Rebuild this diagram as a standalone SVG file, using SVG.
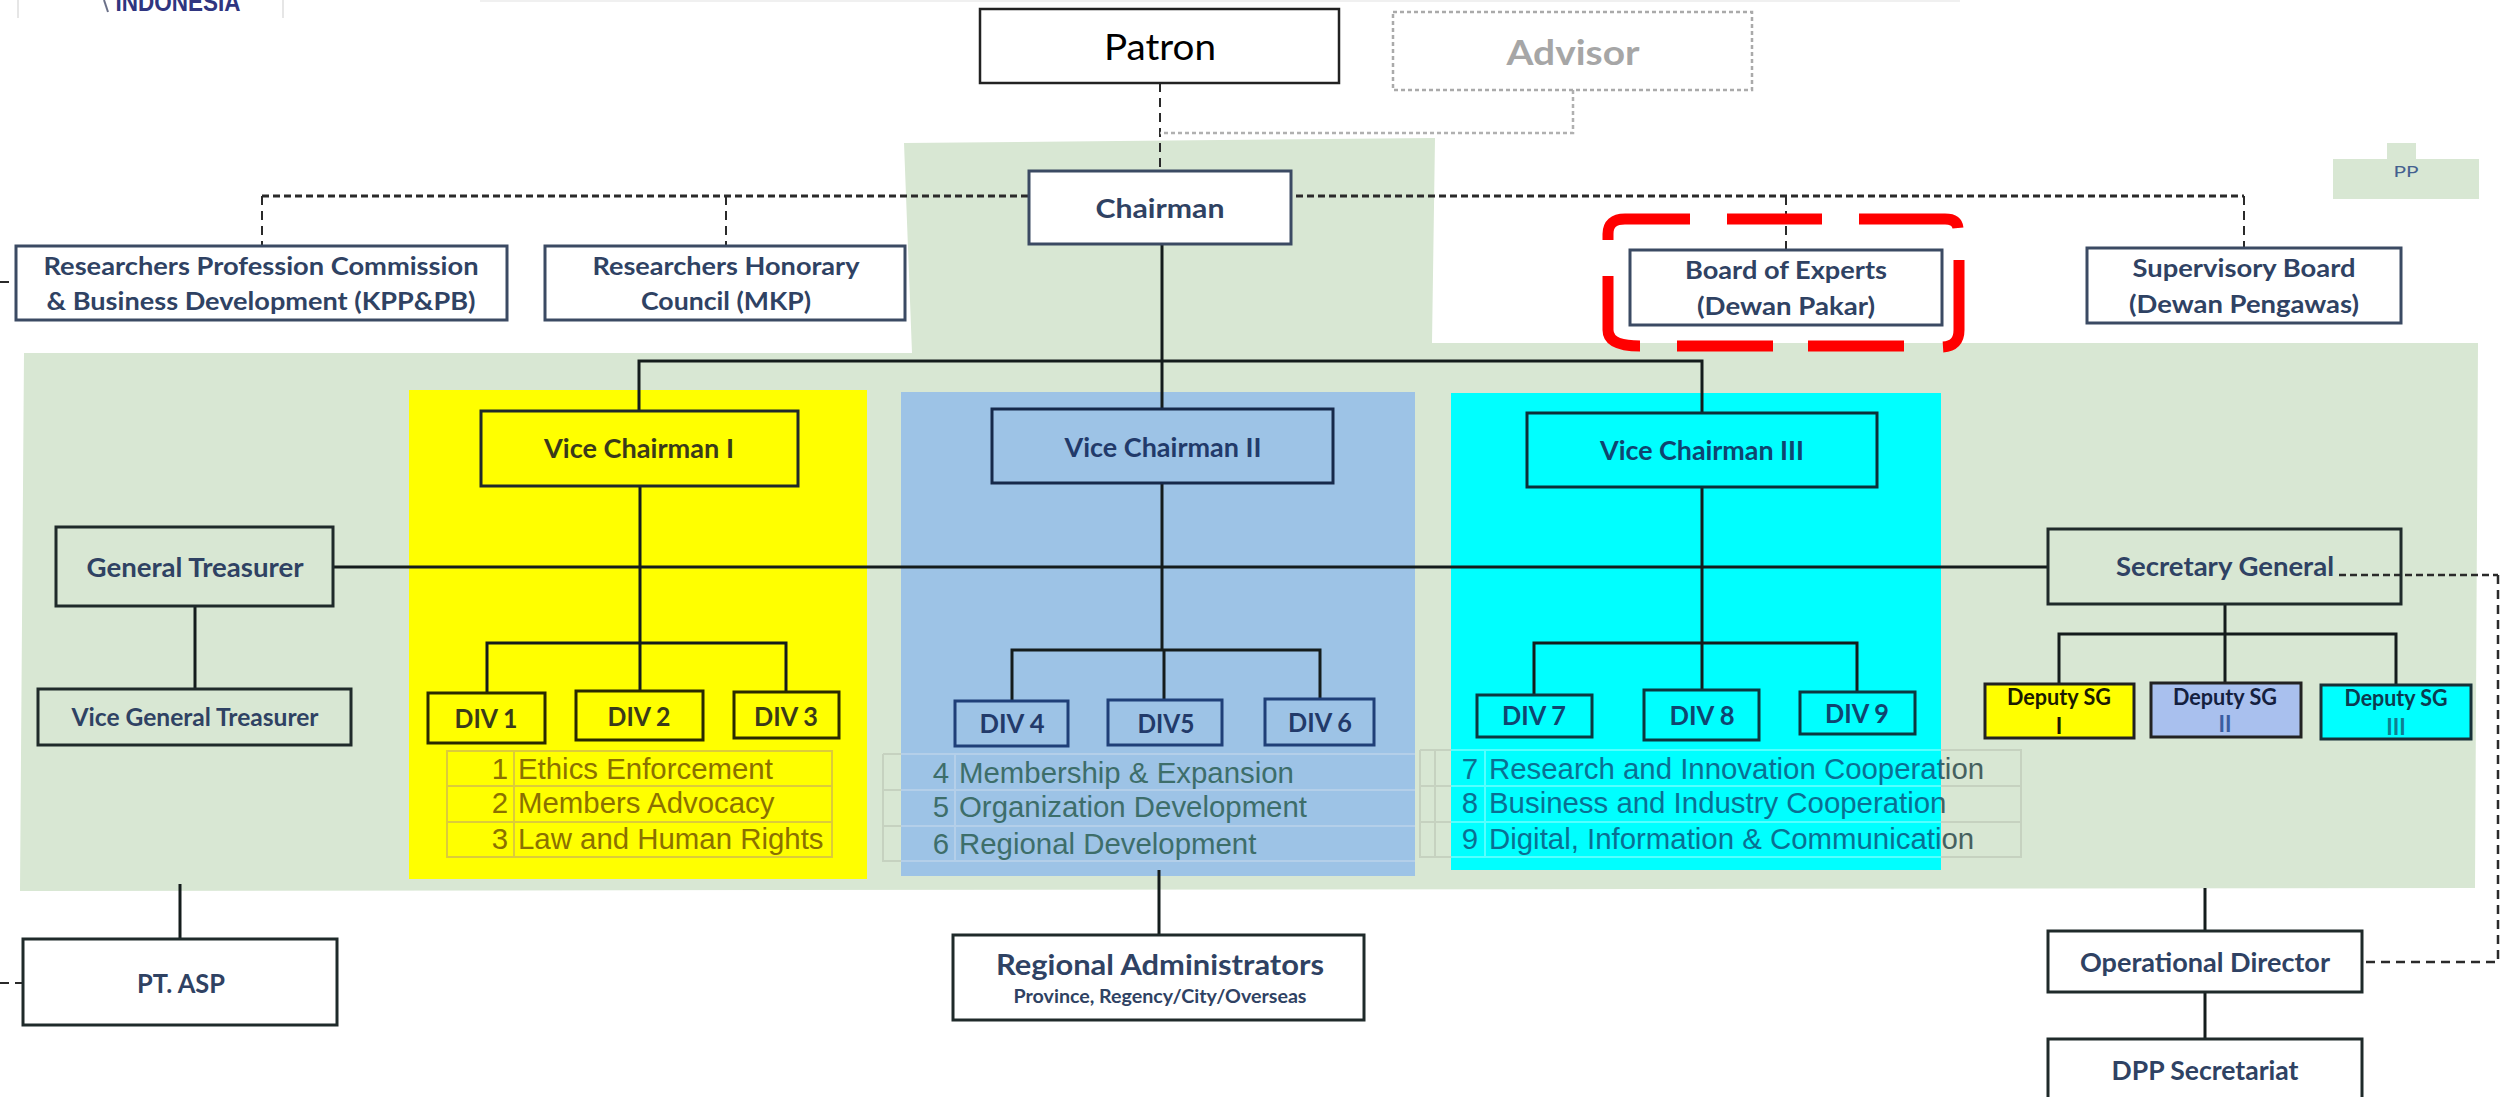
<svg xmlns="http://www.w3.org/2000/svg" width="2501" height="1097" viewBox="0 0 2501 1097">
<style>
.t{font-family:Lato,"Noto Sans",sans-serif;font-weight:700;font-size:25px;text-anchor:middle;fill:#2f4263}
.tb{font-family:"Liberation Sans",Arial,sans-serif;font-size:29.4px}
.box{fill:none;stroke:#1f2a2a;stroke-width:3}
.wbox{fill:#fff;stroke:#3b4a63;stroke-width:3}
.ln{fill:none;stroke:#141c1c;stroke-width:3}
.dv{fill:none;stroke:#2a2a2a;stroke-width:2;stroke-dasharray:9 6}
.dh{fill:none;stroke:#2a2a2a;stroke-width:3;stroke-dasharray:7 4}
.gridg{fill:none;stroke:#c6d2c0;stroke-width:2}
.grid{fill:none;stroke-width:2}
</style>
<defs>
<linearGradient id="t3text" gradientUnits="userSpaceOnUse" x1="1400" y1="0" x2="2100" y2="0">
<stop offset="0.7729" stop-color="#0a6f92"/><stop offset="0.7729" stop-color="#45605f"/>
</linearGradient>
</defs>
<rect width="2501" height="1097" fill="#fff"/>
<g id="backdrop">
<rect x="480" y="0" width="1480" height="2" fill="#f0f0f0"/>
<path d="M18 0V18M283 0V18" stroke="#e6e6e6" stroke-width="2" fill="none"/>
<path d="M104 0L108 12" stroke="#6a7088" stroke-width="2" fill="none"/>
<text x="178" y="11" font-family="'Liberation Sans',Arial,sans-serif" font-weight="700" font-size="26" text-anchor="middle" fill="#2f3580" textLength="125" lengthAdjust="spacingAndGlyphs">INDONESIA</text>
<polygon points="904,143 1435,138 1432,343 2478,343 2475,888 20,891 24,353 912,353" fill="#d8e7d3"/>
<path d="M2333 159H2387V143H2416V159H2479V199H2333Z" fill="#d8e7d3"/>
<path d="M883 754V861H901M883 790H901M883 826H901M883 754H901" class="gridg"/>
<path d="M1420 750V857H1451M1435 750V857M1420 750H1451M1420 786H1451M1420 822H1451M1941 750H2021V857H1941M1941 786H2021M1941 822H2021" class="gridg"/>
<rect x="409" y="390" width="458" height="489" fill="#ffff00"/>
<rect x="901" y="392" width="514" height="484" fill="#9dc3e6"/>
<rect x="1451" y="393" width="490" height="477" fill="#00ffff"/>
<path d="M447 751H832V857H447ZM447 786H832M447 822H832M514 751V857" class="grid" stroke="#dccb3a"/>
<path d="M901 754H1415M901 790H1415M901 826H1415M901 861H1415M955 754V861" class="grid" stroke="#b4cfe9"/>
<path d="M1451 750H1941M1451 786H1941M1451 822H1941M1451 857H1941M1485 750V857" class="grid" stroke="#55ffff"/>
</g>
<g id="connectors">
<path class="dv" d="M1160 83V170"/>
<path d="M1573 90V133H1160" fill="none" stroke="#b0b0b0" stroke-width="2.5" stroke-dasharray="4 3"/>
<path class="dh" d="M262 196H2244"/>
<path class="dv" d="M262 196V246M726 196V246M1786 196V250M2244 196V248"/>
<path class="dv" d="M0 282H16M0 983H23"/>
<path class="dh" d="M2339 575H2498" style="stroke-width:2.5"/>
<path class="dv" d="M2498 575V962H2362" style="stroke-width:2.5"/>
<path class="ln" d="M1162 244V409M639 411V361H1702V413"/>
<path class="ln" d="M333 567H2048"/>
<path class="ln" d="M640 486V691M487 693V643H786V692"/>
<path class="ln" d="M1162 483V650H1164V700M1012 701V650H1320V699"/>
<path class="ln" d="M1702 487V690M1534 695V643H1857V692"/>
<path class="ln" d="M195 606V689"/>
<path class="ln" d="M2225 604V684M2059 684V634H2396V685"/>
<path class="ln" d="M180 884V939M1159 870V934M2205 888V931M2205 992V1039"/>
</g>
<g id="patron"><rect class="box" x="980" y="9" width="359" height="74" style="fill:#fff;stroke:#222;stroke-width:2.5"/><text class="t" x="1160" y="60" style="font-size:36px;font-weight:400;fill:#000" textLength="112" lengthAdjust="spacingAndGlyphs">Patron</text></g>
<g id="advisor"><rect x="1393" y="12" width="359" height="78" fill="#fff" stroke="#aaa" stroke-width="2.5" stroke-dasharray="4 3"/><text class="t" x="1573" y="65" style="font-size:35px;fill:#a6a6a6" textLength="133" lengthAdjust="spacingAndGlyphs">Advisor</text></g>
<g id="chairman"><rect class="wbox" x="1029" y="171" width="262" height="73"/><text class="t" x="1160" y="218" style="font-size:27px" textLength="129" lengthAdjust="spacingAndGlyphs">Chairman</text></g>
<g id="kpp"><rect class="wbox" x="16" y="246" width="491" height="74"/><text class="t" x="261" y="275" textLength="435" lengthAdjust="spacingAndGlyphs">Researchers Profession Commission</text><text class="t" x="261" y="310" textLength="429" lengthAdjust="spacingAndGlyphs">&amp; Business Development (KPP&amp;PB)</text></g>
<g id="mkp"><rect class="wbox" x="545" y="246" width="360" height="74"/><text class="t" x="726" y="275" textLength="267" lengthAdjust="spacingAndGlyphs">Researchers Honorary</text><text class="t" x="726" y="310" textLength="170" lengthAdjust="spacingAndGlyphs">Council (MKP)</text></g>
<g id="board"><rect class="wbox" x="1630" y="250" width="312" height="75"/><text class="t" x="1786" y="279" textLength="202" lengthAdjust="spacingAndGlyphs">Board of Experts</text><text class="t" x="1786" y="315" textLength="178" lengthAdjust="spacingAndGlyphs">(Dewan Pakar)</text></g>
<g id="supervisory"><rect class="wbox" x="2087" y="248" width="314" height="75"/><text class="t" x="2244" y="277" textLength="223" lengthAdjust="spacingAndGlyphs">Supervisory Board</text><text class="t" x="2244" y="313" textLength="230" lengthAdjust="spacingAndGlyphs">(Dewan Pengawas)</text></g>
<g id="pp"><text class="t" x="2406" y="177" style="font-size:16px;font-weight:400;fill:#44608f" textLength="25" lengthAdjust="spacingAndGlyphs">PP</text></g>
<g id="treasurer"><rect class="box" x="56" y="527" width="277" height="79"/><text class="t" x="195" y="577" style="font-size:26px" textLength="217" lengthAdjust="spacingAndGlyphs">General Treasurer</text></g>
<g id="vice-treasurer"><rect class="box" x="38" y="689" width="313" height="56"/><text class="t" x="195" y="726" textLength="247" lengthAdjust="spacingAndGlyphs">Vice General Treasurer</text></g>
<g id="vc1"><rect class="box" x="481" y="411" width="317" height="75"/><text class="t" x="639" y="458" style="font-size:26px;fill:#3a3a1a" textLength="190" lengthAdjust="spacingAndGlyphs">Vice Chairman I</text></g>
<g id="vc2"><rect class="box" x="992" y="409" width="341" height="74" style="stroke:#16294a"/><text class="t" x="1163" y="457" style="font-size:26px;fill:#223a6a" textLength="197" lengthAdjust="spacingAndGlyphs">Vice Chairman II</text></g>
<g id="vc3"><rect class="box" x="1527" y="413" width="350" height="74" style="stroke:#0c3038"/><text class="t" x="1702" y="460" style="font-size:26px;fill:#0f4570" textLength="204" lengthAdjust="spacingAndGlyphs">Vice Chairman III</text></g>
<g id="div1"><rect class="box" x="428" y="693" width="117" height="50" style="stroke:#2a2a00"/><text class="t" x="486" y="728" style="font-size:27px;fill:#3a3a1a" textLength="63" lengthAdjust="spacingAndGlyphs">DIV 1</text></g>
<g id="div2"><rect class="box" x="576" y="691" width="127" height="49" style="stroke:#2a2a00"/><text class="t" x="639" y="726" style="font-size:27px;fill:#3a3a1a" textLength="63" lengthAdjust="spacingAndGlyphs">DIV 2</text></g>
<g id="div3"><rect class="box" x="734" y="692" width="105" height="46" style="stroke:#2a2a00"/><text class="t" x="786" y="726" style="font-size:27px;fill:#3a3a1a" textLength="64" lengthAdjust="spacingAndGlyphs">DIV 3</text></g>
<g id="div4"><rect class="box" x="955" y="701" width="113" height="45" style="stroke:#1f3f78"/><text class="t" x="1012" y="733" style="font-size:27px;fill:#223a6a" textLength="65" lengthAdjust="spacingAndGlyphs">DIV 4</text></g>
<g id="div5"><rect class="box" x="1108" y="700" width="114" height="45" style="stroke:#1f3f78"/><text class="t" x="1166" y="733" style="font-size:27px;fill:#223a6a" textLength="57" lengthAdjust="spacingAndGlyphs">DIV5</text></g>
<g id="div6"><rect class="box" x="1265" y="699" width="109" height="46" style="stroke:#1f3f78"/><text class="t" x="1320" y="732" style="font-size:27px;fill:#223a6a" textLength="64" lengthAdjust="spacingAndGlyphs">DIV 6</text></g>
<g id="div7"><rect class="box" x="1477" y="695" width="115" height="42" style="stroke:#0c3840"/><text class="t" x="1534" y="725" style="font-size:27px;fill:#0f4570" textLength="64" lengthAdjust="spacingAndGlyphs">DIV 7</text></g>
<g id="div8"><rect class="box" x="1644" y="690" width="115" height="50" style="stroke:#0c3840"/><text class="t" x="1702" y="725" style="font-size:27px;fill:#0f4570" textLength="65" lengthAdjust="spacingAndGlyphs">DIV 8</text></g>
<g id="div9"><rect class="box" x="1800" y="692" width="115" height="42" style="stroke:#0c3840"/><text class="t" x="1857" y="723" style="font-size:27px;fill:#0f4570" textLength="64" lengthAdjust="spacingAndGlyphs">DIV 9</text></g>
<g id="table1" class="tb" fill="#8b7000">
<text x="508" y="779" text-anchor="end">1</text><text x="518" y="779">Ethics Enforcement</text>
<text x="508" y="813" text-anchor="end">2</text><text x="518" y="813">Members Advocacy</text>
<text x="508" y="849" text-anchor="end">3</text><text x="518" y="849">Law and Human Rights</text>
</g>
<g id="table2" class="tb" fill="#3d6e6a">
<text x="949" y="783" text-anchor="end">4</text><text x="959" y="783">Membership &amp; Expansion</text>
<text x="949" y="817" text-anchor="end">5</text><text x="959" y="817">Organization Development</text>
<text x="949" y="854" text-anchor="end">6</text><text x="959" y="854">Regional Development</text>
</g>
<g id="table3" class="tb" fill="url(#t3text)">
<text x="1478" y="779" text-anchor="end">7</text><text x="1489" y="779">Research and Innovation Cooperation</text>
<text x="1478" y="813" text-anchor="end">8</text><text x="1489" y="813">Business and Industry Cooperation</text>
<text x="1478" y="849" text-anchor="end">9</text><text x="1489" y="849">Digital, Information &amp; Communication</text>
</g>
<g id="secgen"><rect class="box" x="2048" y="529" width="353" height="75"/><text class="t" x="2225" y="576" style="font-size:26px" textLength="218" lengthAdjust="spacingAndGlyphs">Secretary General</text></g>
<g id="dsg1"><rect x="1985" y="684" width="149" height="54" fill="#ffff00" stroke="#222" stroke-width="3"/><text class="t" x="2059" y="705" style="font-size:22px;fill:#1a1a00" textLength="104" lengthAdjust="spacingAndGlyphs">Deputy SG</text><text class="t" x="2059" y="734" style="font-size:22px;fill:#1a1a00">I</text></g>
<g id="dsg2"><rect x="2151" y="683" width="150" height="54" fill="#a9c0ee" stroke="#222" stroke-width="3"/><text class="t" x="2225" y="705" style="font-size:22px;fill:#14203f" textLength="104" lengthAdjust="spacingAndGlyphs">Deputy SG</text><text class="t" x="2225" y="732" style="font-size:22px;fill:#3a5da0">II</text></g>
<g id="dsg3"><rect x="2321" y="685" width="150" height="54" fill="#00ffff" stroke="#173038" stroke-width="3"/><text class="t" x="2396" y="706" style="font-size:22px;fill:#0c3a50" textLength="103" lengthAdjust="spacingAndGlyphs">Deputy SG</text><text class="t" x="2396" y="735" style="font-size:22px;fill:#0f7f90">III</text></g>
<g id="opdir"><rect class="box" x="2048" y="931" width="314" height="61" style="fill:#fff"/><text class="t" x="2205" y="972" style="font-size:26px" textLength="250" lengthAdjust="spacingAndGlyphs">Operational Director</text></g>
<g id="dpp"><rect class="box" x="2048" y="1039" width="314" height="70" style="fill:#fff"/><text class="t" x="2205" y="1080" style="font-size:26px" textLength="187" lengthAdjust="spacingAndGlyphs">DPP Secretariat</text></g>
<g id="ptasp"><rect class="box" x="23" y="939" width="314" height="86" style="fill:#fff"/><text class="t" x="181" y="993" style="font-size:26px" textLength="88" lengthAdjust="spacingAndGlyphs">PT. ASP</text></g>
<g id="regional"><rect class="box" x="953" y="935" width="411" height="85" style="fill:#fff"/><text class="t" x="1160" y="975" style="font-size:29px" textLength="328" lengthAdjust="spacingAndGlyphs">Regional Administrators</text><text class="t" x="1160" y="1003" style="font-size:18px" textLength="293" lengthAdjust="spacingAndGlyphs">Province, Regency/City/Overseas</text></g>
<g id="highlight"><path fill="none" stroke="#ff0000" stroke-width="11" d="M1608 240V234Q1608 219 1625 219H1690M1727 219H1822M1859 219H1945Q1957 219 1958 228M1959 260V330Q1959 346 1943 347M1904 346H1808M1773 346H1677M1640 346Q1608 346 1608 330V276"/></g>
</svg>
